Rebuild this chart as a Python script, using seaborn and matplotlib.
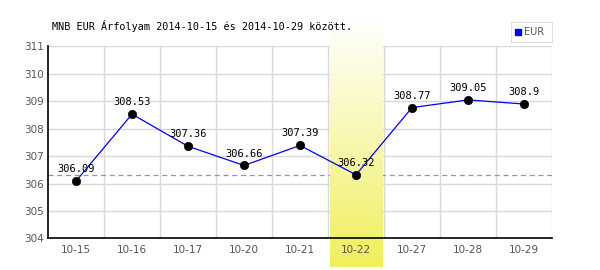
import matplotlib
matplotlib.use("Agg")
import matplotlib.pyplot as plt
import seaborn as sns
import numpy as np
import pandas as pd
from matplotlib.colors import LinearSegmentedColormap

dates = ["10-15", "10-16", "10-17", "10-20", "10-21", "10-22", "10-27", "10-28", "10-29"]
values = [306.09, 308.53, 307.36, 306.66, 307.39, 306.32, 308.77, 309.05, 308.9]
labels = ["306.09", "308.53", "307.36", "306.66", "307.39", "306.32", "308.77", "309.05", "308.9"]
highlight = "10-22"
ref_level = 306.32
yticks = [304, 305, 306, 307, 308, 309, 310, 311]
title = "MNB EUR Árfolyam 2014-10-15 és 2014-10-29 között."

sns.set_style("white")
plt.rcParams['font.family'] = ['DejaVu Sans']

df = pd.DataFrame({"x": np.arange(len(dates)), "v": values})

fig = plt.figure(figsize=(6, 2.7), dpi=100)
ax = fig.add_axes([0.08, 0.117, 0.84, 0.711])
ax.set_xlim(-0.5, len(dates) - 0.5)
ax.set_ylim(304, 311)
ax.set_axisbelow(False)

# grid
for b in np.arange(0.5, len(dates)):
    ax.axvline(b, color="#d9d9d9", lw=1, zorder=0.5)
for t in yticks[1:]:
    ax.axhline(t, color="#d9d9d9", lw=1, zorder=0.5)

ax.axhline(ref_level, color="#8888ff", lw=0.9, ls=(0, (4, 3)), zorder=1)

# highlight band with gradient (covers grid and reference line)
hi = dates.index(highlight)
grad = np.linspace(0, 1, 256).reshape(-1, 1)
cmap = LinearSegmentedColormap.from_list("hl", ["#ffffff", "#f0ef5c"])
ax.imshow(grad, cmap=cmap, aspect="auto", origin="upper",
          extent=(hi - 0.47, hi + 0.47, 302.95, 311.95), clip_on=False, zorder=1.5)

sns.lineplot(data=df, x="x", y="v", color="#0000ff", lw=0.9, ax=ax, zorder=2)
sns.scatterplot(data=df, x="x", y="v", color="black", s=36, edgecolor="black", ax=ax, zorder=3)

for i, (v, lab) in enumerate(zip(values, labels)):
    ax.annotate(lab, (i, v), xytext=(0, 5), textcoords="offset points",
                ha="center", va="bottom", fontsize=7.5, family="DejaVu Sans Mono",
                color="black", zorder=4)

ax.set_xticks(range(len(dates)))
ax.set_xticklabels(dates)
ax.set_yticks(yticks)
ax.tick_params(axis="both", length=0, labelsize=7.5, colors="#555555")
ax.tick_params(axis="x", pad=5)
ax.tick_params(axis="y", pad=3)
ax.set_xlabel("")
ax.set_ylabel("")

for s in ["top", "right"]:
    ax.spines[s].set_visible(False)
ax.spines["left"].set_color("black")
ax.spines["bottom"].set_color("black")
ax.spines["left"].set_linewidth(1.2)
ax.spines["bottom"].set_linewidth(1.2)
ax.spines["left"].set_zorder(5)
ax.spines["bottom"].set_zorder(5)

fig.text(52 / 600, 1 - 26 / 270, title, ha="left", va="center",
         fontsize=7.3, family="DejaVu Sans Mono", color="black")

# legend box
lax = fig.add_axes([511 / 600, 1 - 42 / 270, 41 / 600, 20 / 270])
lax.set_xticks([]); lax.set_yticks([])
for s in lax.spines.values():
    s.set_color("#dddddd")
lax.set_xlim(0, 41); lax.set_ylim(0, 20)
lax.add_patch(plt.Rectangle((4, 7), 6, 6, color="#0000ff"))
lax.text(13, 10, "EUR", va="center", ha="left", fontsize=7, color="#555555")

fig.savefig("out.png", dpi=100)
